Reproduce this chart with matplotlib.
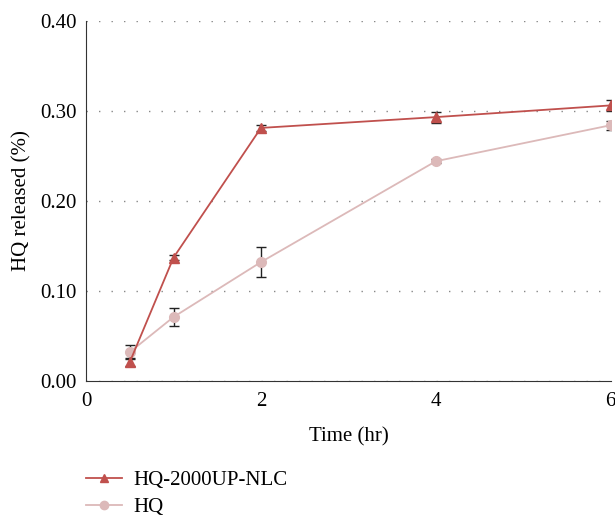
import matplotlib.pyplot as plt
from matplotlib.ticker import FormatStrFormatter
from matplotlib.lines import Line2D

plt.rcParams['font.family'] = ['Liberation Serif', 'DejaVu Serif']

time = [0.5, 1, 2, 4, 6]
nlc = [0.021, 0.137, 0.281, 0.293, 0.306]
nlc_err = [0.004, 0.003, 0.003, 0.006, 0.006]
hq = [0.032, 0.071, 0.132, 0.244, 0.284]
hq_err = [0.008, 0.010, 0.017, 0.002, 0.005]

red = '#c0504d'
pink = '#dcb9b9'

fig = plt.figure(figsize=(6.15, 5.19), dpi=100)
ax = fig.add_axes([0.14, 0.266, 0.853, 0.694])

ax.errorbar(time, hq, yerr=hq_err, color=pink, marker='o', markersize=7,
            linewidth=1.3, ecolor='#222222', elinewidth=1, capsize=3.5, zorder=3)
ax.errorbar(time, nlc, yerr=nlc_err, color=red, marker='^', markersize=7,
            linewidth=1.3, ecolor='#222222', elinewidth=1, capsize=3.5, zorder=4)

ax.set_xlim(0, 6)
ax.set_ylim(0, 0.40)
ax.set_xticks([0, 2, 4, 6])
ax.set_yticks([0, 0.1, 0.2, 0.3, 0.4])
ax.yaxis.set_major_formatter(FormatStrFormatter('%.2f'))
ax.tick_params(length=0, labelsize=15)
ax.tick_params(axis='x', pad=8)
ax.tick_params(axis='y', pad=7)
ax.yaxis.grid(True, linestyle=(0, (1, 8)), color='#888888', linewidth=1)
ax.set_axisbelow(True)
for s in ['top', 'right']:
    ax.spines[s].set_visible(False)
ax.spines['left'].set_color('#333333')
ax.spines['bottom'].set_color('#333333')

ax.set_xlabel('Time (hr)', fontsize=15, labelpad=12)
ax.set_ylabel('HQ released (%)', fontsize=15, labelpad=6)

h1 = Line2D([], [], color=red, marker='^', markersize=6, linewidth=1.3)
h2 = Line2D([], [], color=pink, marker='o', markersize=6, linewidth=1.3)
fig.legend([h1, h2], ['HQ-2000UP-NLC', 'HQ'], loc='lower left',
           bbox_to_anchor=(0.109, -0.032), frameon=False, fontsize=15,
           handlelength=1.75, handletextpad=0.55, labelspacing=0.35)

fig.savefig('out.png', dpi=100)
